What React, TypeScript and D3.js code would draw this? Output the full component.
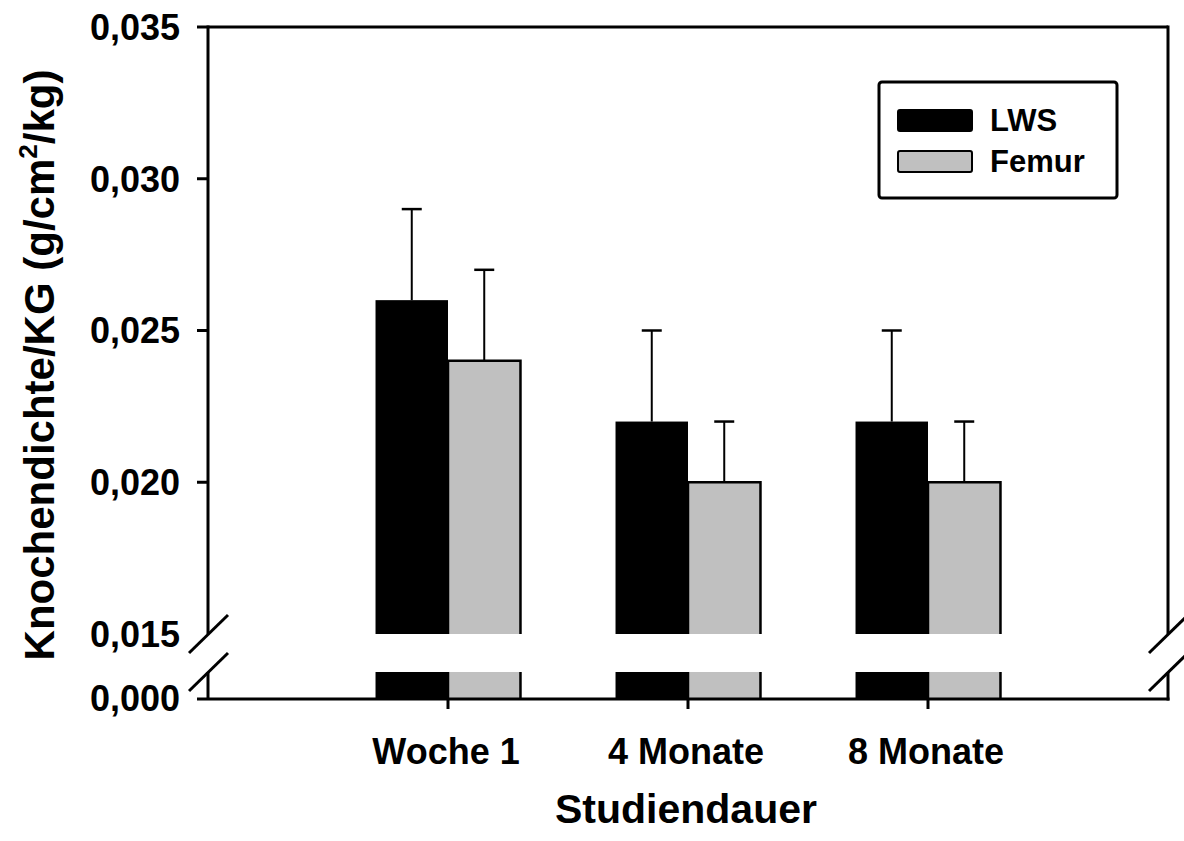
import React from "react";
import * as d3 from "d3";

const categories = ["Woche 1", "4 Monate", "8 Monate"];
const seriesNames = ["LWS", "Femur"];
const lwsValues = [0.026, 0.022, 0.022];
const lwsErrors = [0.003, 0.003, 0.003];
const femurValues = [0.024, 0.020, 0.020];
const femurErrors = [0.003, 0.002, 0.002];
const upperTicks = [0.015, 0.02, 0.025, 0.03, 0.035];
const lowerTicks = [0.0];
const seriesColors = ["#000000", "#c0c0c0"];

const FONT = "'Liberation Sans', Arial, Helvetica, sans-serif";

export default function App() {
  const W = 1184, H = 841;
  const left = 208, right = 1168, top = 27, bottom = 699;
  const breakTop = 634, breakBottom = 672;

  const x = d3.scaleLinear().domain([0, categories.length + 1]).range([left, right]);
  const yU = d3.scaleLinear().domain([0.015, 0.035]).range([breakTop, top]);
  const yL = d3.scaleLinear().domain([0, 0.0009]).range([bottom, breakBottom]);
  const halfW = 0.302;
  const fmt = (v: number) => d3.format(".3f")(v).replace(".", ",");

  const series = [
    { name: seriesNames[0], values: lwsValues, errors: lwsErrors, color: seriesColors[0], off: -1 },
    { name: seriesNames[1], values: femurValues, errors: femurErrors, color: seriesColors[1], off: 0 },
  ];

  const slash = (ax: number, ay: number, key: string) => (
    <line key={key} x1={ax - 19} y1={ay + 19} x2={ax + 20} y2={ay - 19} stroke="#000" strokeWidth={3} />
  );

  return (
    <svg width={W} height={H} style={{ position: "absolute", left: 0, top: 0, background: "#fff" }}>
      {categories.map((c, i) => {
        const cx = i + 1;
        return series.map((s) => {
          const x0 = x(cx + s.off * halfW);
          const x1 = x(cx + (s.off + 1) * halfW);
          const yv = yU(s.values[i]);
          const ye = yU(s.values[i] + s.errors[i]);
          const isGray = s.color !== "#000000";
          const mx = (x0 + x1) / 2;
          return (
            <g key={c + s.name}>
              <rect x={x0} y={yv} width={x1 - x0} height={breakTop - yv} fill={s.color} />
              <rect x={x0} y={breakBottom} width={x1 - x0} height={bottom - breakBottom} fill={s.color} />
              {isGray && (
                <>
                  <path d={`M${x0},${breakTop} L${x0},${yv} L${x1},${yv} L${x1},${breakTop}`} fill="none" stroke="#000" strokeWidth={2.5} />
                  <path d={`M${x0},${bottom} L${x0},${breakBottom} M${x1},${breakBottom} L${x1},${bottom}`} fill="none" stroke="#000" strokeWidth={2.5} />
                </>
              )}
              <line x1={mx} x2={mx} y1={yv} y2={ye} stroke="#000" strokeWidth={2} />
              <line x1={mx - 10} x2={mx + 10} y1={ye} y2={ye} stroke="#000" strokeWidth={2.5} />
            </g>
          );
        });
      })}

      <line x1={left} x2={right} y1={top} y2={top} stroke="#000" strokeWidth={3} />
      <line x1={left - 11} x2={right + 1.5} y1={bottom} y2={bottom} stroke="#000" strokeWidth={3} />
      <line x1={left} x2={left} y1={top - 1.5} y2={breakTop} stroke="#000" strokeWidth={3} />
      <line x1={left} x2={left} y1={breakBottom} y2={bottom} stroke="#000" strokeWidth={3} />
      <line x1={right} x2={right} y1={top - 1.5} y2={breakTop} stroke="#000" strokeWidth={3} />
      <line x1={right} x2={right} y1={breakBottom} y2={bottom + 1.5} stroke="#000" strokeWidth={3} />
      {slash(left, breakTop, "s1")}
      {slash(left, breakBottom, "s2")}
      {slash(right, breakTop, "s3")}
      {slash(right, breakBottom, "s4")}

      {upperTicks.map((t) => (
        <g key={"u" + t}>
          {t !== 0.015 && <line x1={left - 11} x2={left} y1={yU(t)} y2={yU(t)} stroke="#000" strokeWidth={3} />}
          <text x={180} y={yU(t)} dy="0.36em" textAnchor="end" fontFamily={FONT} fontWeight="bold" fontSize={36}>{fmt(t)}</text>
        </g>
      ))}
      {lowerTicks.map((t) => (
        <text key={"l" + t} x={180} y={yL(t)} dy="0.34em" textAnchor="end" fontFamily={FONT} fontWeight="bold" fontSize={36}>{fmt(t)}</text>
      ))}

      {categories.map((c, i) => (
        <g key={"xt" + c}>
          <line x1={x(i + 1)} x2={x(i + 1)} y1={bottom} y2={bottom + 10} stroke="#000" strokeWidth={3} />
          <text x={x(i + 1) - 2} y={764} textAnchor="middle" fontFamily={FONT} fontWeight="bold" fontSize={36}>{c}</text>
        </g>
      ))}

      <text x={686} y={823} textAnchor="middle" fontFamily={FONT} fontWeight="bold" fontSize={41}>Studiendauer</text>
      <text transform="translate(54,365) rotate(-90)" textAnchor="middle" fontFamily={FONT} fontWeight="bold" fontSize={42}>
        Knochendichte/KG (g/cm<tspan fontSize={26} dy={-17}>2</tspan><tspan dy={17}>/kg)</tspan>
      </text>

      <rect x={879} y={82} width={238} height={116} rx={3} fill="#fff" stroke="#000" strokeWidth={3} />
      {series.map((s, i) => (
        <g key={"lg" + s.name}>
          <rect x={898} y={110 + i * 41} width={74} height={21} rx={2} fill={s.color} stroke="#000" strokeWidth={2} />
          <text x={990} y={131 + i * 41} fontFamily={FONT} fontWeight="bold" fontSize={31}>{s.name}</text>
        </g>
      ))}
    </svg>
  );
}
